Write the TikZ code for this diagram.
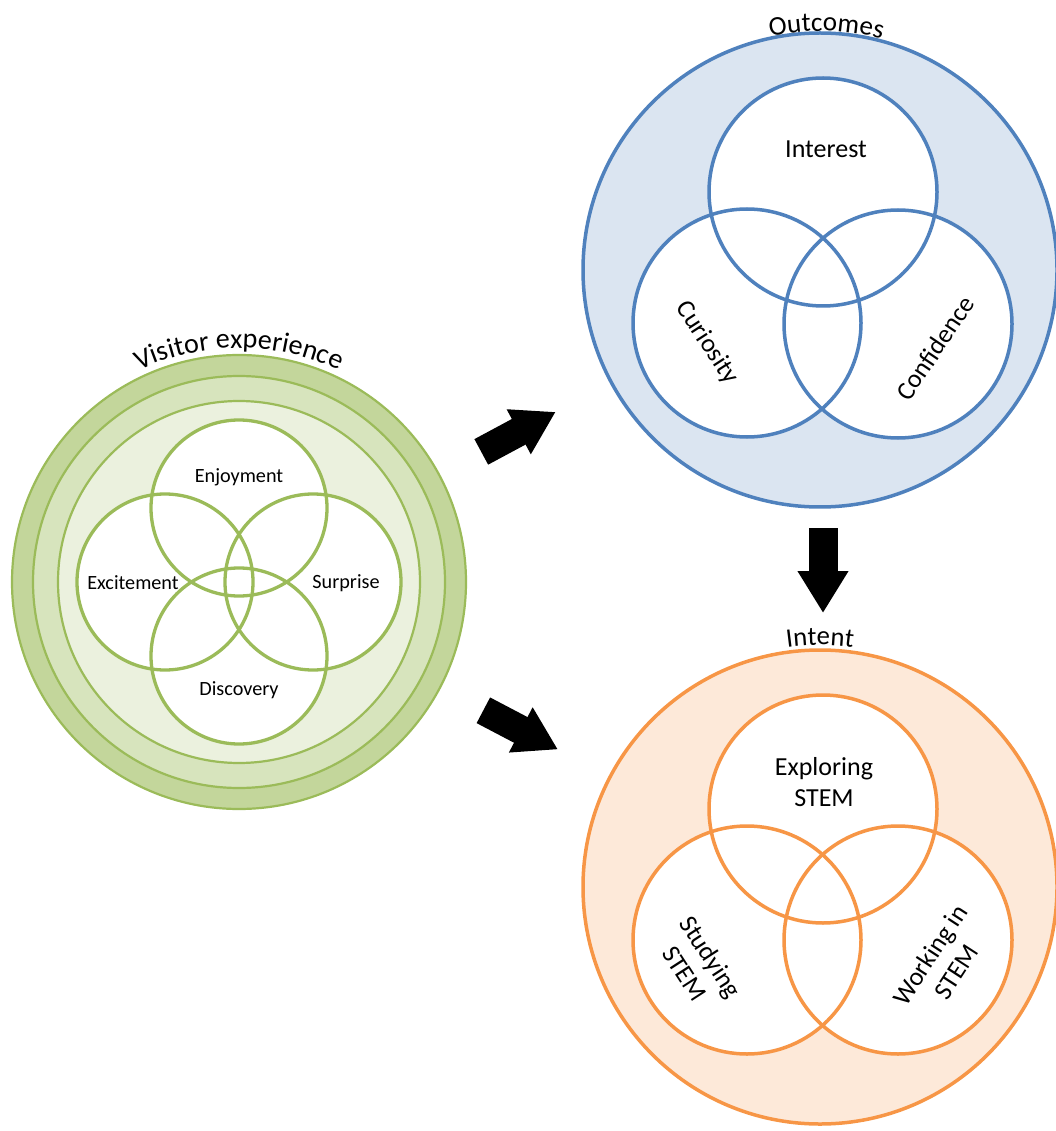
\documentclass[tikz,border=0pt]{standalone}
\usepackage{fontspec}
\setmainfont{Carlito}
\usepackage{tikz}
\usetikzlibrary{arrows.meta}
\usetikzlibrary{decorations.text}

\definecolor{vgreen}{HTML}{9BBB59}
\definecolor{vring1}{HTML}{C3D69B}
\definecolor{vring2}{HTML}{D7E4BD}
\definecolor{vring3}{HTML}{EBF1DE}
\definecolor{oblue}{HTML}{4F81BD}
\definecolor{ofill}{HTML}{DBE5F1}
\definecolor{iorange}{HTML}{F79646}
\definecolor{ifill}{HTML}{FDE9D9}

\begin{document}
\begin{tikzpicture}[x=0.1mm, y=-0.1mm]
    \tikzstyle{big} = [circle, inner sep=0pt, outer sep=0pt, minimum size=47.4mm, line width=0.35mm];
    \tikzstyle{lbl} = [font=\fontsize{7.4}{8.8}\selectfont, align=center, inner sep=0pt];
    \tikzstyle{small} = [font=\fontsize{5.75}{7}\selectfont, inner sep=0pt];
    \tikzstyle{title} = [decorate, decoration={text along path, text align=center, text color=black}];
    \tikzstyle{bigarrow} = [draw, line width=2.9mm, -{Triangle[length=4.2mm, width=4.8mm]}];
    \useasboundingbox (0,0) rectangle (1055,1131);

    % visitor experience
    \node[big, minimum size=45.4mm, draw=vgreen, fill=vring1, line width=0.22mm] (vis) at (239,582) {};
    \draw[vgreen, line width=0.22mm, fill=vring2] (vis.center) circle[radius=206];
    \draw[vgreen, line width=0.22mm, fill=vring3] (vis.center) circle[radius=181];
    \foreach \dx/\dy in {0/-74, -74/0, 74/0, 0/74}
        \fill[white] ([shift={(\dx,\dy)}]vis.center) circle[radius=88];
    \foreach \dx/\dy in {0/-74, -74/0, 74/0, 0/74}
        \draw[vgreen, line width=0.33mm] ([shift={(\dx,\dy)}]vis.center) circle[radius=88];
    \node[small] (enj) at (239,477) {Enjoyment};
    \node[small] (exc) at (133,583) {Excitement};
    \node[small] (sur) at (346,583) {Surprise};
    \node[small] (dis) at (239,690) {Discovery};
    \path[title, decoration={text={|\fontsize{8}{9.6}\selectfont|Visitor experience}}]
        (vis.center) ++(150:23.4mm) arc[start angle=150, end angle=30, radius=23.4mm];

    % outcomes
    \node[big, draw=oblue, fill=ofill] (out) at (820,270) {};
    \foreach \dx/\dy in {3/-78, -73/53, 78/54}
        \fill[white] ([shift={(\dx,\dy)}]out.center) circle[radius=114];
    \foreach \dx/\dy in {3/-78, -73/53, 78/54}
        \draw[oblue, line width=0.35mm] ([shift={(\dx,\dy)}]out.center) circle[radius=114];
    \node[lbl] (intr) at (826,149) {Interest};
    \node[lbl, rotate=-57] (cur) at (707,343) {Curiosity};
    \node[lbl, rotate=56] (conf) at (935,348) {Confidence};
    \path[title, decoration={text={|\fontsize{7.7}{9.2}\selectfont|Outcomes}}]
        (out.center) ++(120:23.9mm) arc[start angle=120, end angle=57, radius=23.9mm];

    % intent
    \node[big, draw=iorange, fill=ifill] (int) at (820,887) {};
    \foreach \dx/\dy in {3/-78, -73/53, 78/53}
        \fill[white] ([shift={(\dx,\dy)}]int.center) circle[radius=114];
    \foreach \dx/\dy in {3/-78, -73/53, 78/53}
        \draw[iorange, line width=0.35mm] ([shift={(\dx,\dy)}]int.center) circle[radius=114];
    \node[lbl] (expl) at (824,782) {Exploring\\STEM};
    \node[lbl, rotate=-57] (stud) at (698,965) {Studying\\STEM};
    \node[lbl, rotate=57] (work) at (943,963) {Working in\\STEM};
    \path[title, decoration={text={|\fontsize{7.6}{9.1}\selectfont|Intent}}]
        (int.center) ++(120:24.2mm) arc[start angle=120, end angle=60, radius=24.2mm];

    \draw[bigarrow, shorten <=4.8mm, shorten >=6.3mm] (vis) -- (out);
    \draw[bigarrow, shorten <=4.9mm, shorten >=5.9mm] (vis) -- (int);
    \draw[bigarrow, shorten <=2.1mm, shorten >=3.7mm] ([xshift=0.3mm]out.south) -- ([xshift=0.3mm]int.north);
\end{tikzpicture}
\end{document}
